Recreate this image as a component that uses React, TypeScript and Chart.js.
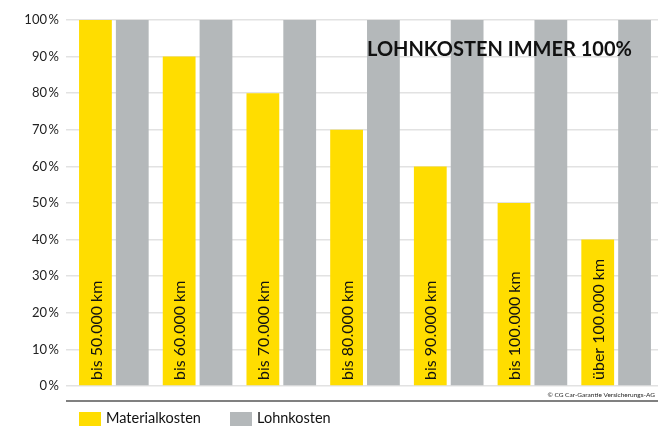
import React, { useEffect, useRef } from "react";
import { Chart, registerables } from "chart.js";

Chart.register(...registerables);

const categories = [
  "bis 50.000 km",
  "bis 60.000 km",
  "bis 70.000 km",
  "bis 80.000 km",
  "bis 90.000 km",
  "bis 100.000 km",
  "über 100.000 km",
];
const materialkosten = [100, 90, 80, 70, 60, 50, 40];
const lohnkosten = [100, 100, 100, 100, 100, 100, 100];
const seriesNames = ["Materialkosten", "Lohnkosten"];
const title = "LOHNKOSTEN IMMER 100%";
const copyright = "© CG Car-Garantie Versicherungs-AG";

const YELLOW = "#FFDD00";
const GRAY = "#B4B8BA";
const FONT = "Lato, 'Open Sans', sans-serif";

const decorPlugin = {
  id: "decor",
  afterDatasetsDraw(chart: any) {
    const ctx = chart.ctx;
    const meta = chart.getDatasetMeta(0);
    const yScale = chart.scales.y;
    ctx.save();
    // category labels inside yellow bars
    ctx.fillStyle = "#111";
    ctx.font = `16px ${FONT}`;
    ctx.textAlign = "left";
    ctx.textBaseline = "middle";
    meta.data.forEach((bar: any, i: number) => {
      ctx.save();
      ctx.translate(bar.x + 1, yScale.getPixelForValue(0) - 6);
      ctx.rotate(-Math.PI / 2);
      ctx.fillText(categories[i], 0, 0);
      ctx.restore();
    });
    // title
    ctx.font = `bold 20px ${FONT}`;
    ctx.textAlign = "left";
    ctx.textBaseline = "alphabetic";
    ctx.fillStyle = "#111";
    ctx.fillText(title, 367, 56);
    ctx.restore();
  },
  afterDraw(chart: any) {
    const ctx = chart.ctx;
    ctx.save();
    // bottom line
    ctx.strokeStyle = "#808080";
    ctx.lineWidth = 2;
    ctx.beginPath();
    ctx.moveTo(66, 401);
    ctx.lineTo(658, 401);
    ctx.stroke();
    // copyright
    ctx.font = `6.5px ${FONT}`;
    ctx.fillStyle = "#222";
    ctx.textAlign = "right";
    ctx.textBaseline = "alphabetic";
    ctx.fillText(copyright, 655, 397);
    // legend
    const colors = [YELLOW, GRAY];
    const xs = [79, 230];
    ctx.font = `14.5px ${FONT}`;
    ctx.textAlign = "left";
    seriesNames.forEach((name, i) => {
      ctx.fillStyle = colors[i];
      ctx.fillRect(xs[i], 412, 22, 14);
      ctx.fillStyle = "#111";
      ctx.fillText(name, xs[i] + 27, 423);
    });
    ctx.restore();
  },
};

export default function App() {
  const ref = useRef<HTMLCanvasElement>(null);
  useEffect(() => {
    document.body.style.margin = "0";
    const chart = new Chart(ref.current!, {
      type: "bar",
      data: {
        labels: categories,
        datasets: [
          {
            label: seriesNames[0],
            data: materialkosten,
            backgroundColor: YELLOW,
            categoryPercentage: 0.88,
            barPercentage: 0.89,
          },
          {
            label: seriesNames[1],
            data: lohnkosten,
            backgroundColor: GRAY,
            categoryPercentage: 0.88,
            barPercentage: 0.89,
          },
        ],
      },
      options: {
        animation: false,
        responsive: false,
        layout: { padding: { top: 20, bottom: 40, right: -4, left: 0 } },
        plugins: { legend: { display: false }, tooltip: { enabled: false } },
        scales: {
          x: { display: false },
          y: {
            min: 0,
            max: 100,
            afterFit(scale: any) {
              scale.width = 72;
            },
            border: { display: false },
            grid: { color: "#E2E2E2", lineWidth: 1.5, tickLength: 6 },
            ticks: {
              stepSize: 10,
              padding: 7,
              color: "#222",
              font: { family: FONT, size: 13 },
              callback: (v: any) => `${v}\u2009%`,
            },
          },
        },
      },
      plugins: [decorPlugin],
    });
    return () => chart.destroy();
  }, []);
  return <canvas ref={ref} width={658} height={426} style={{ display: "block" }} />;
}
